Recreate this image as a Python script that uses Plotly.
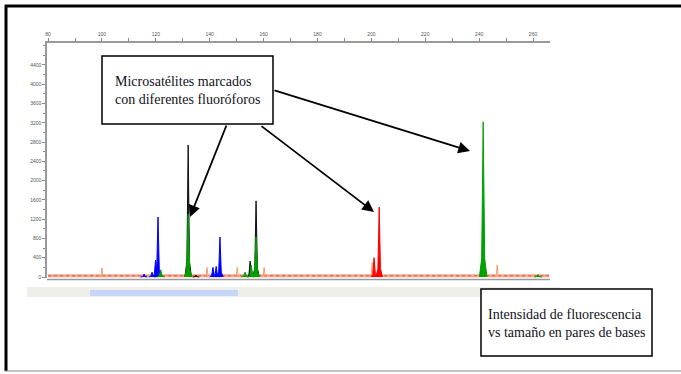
import plotly.graph_objects as go

# ---------------- data (size in bp, intensity in RFU) ----------------
blue_bp = [115.6, 118.6, 119.9, 120.8, 141.2, 142.4, 143.8]
blue_rfu = [60, 100, 350, 1245, 200, 220, 830]

black_bp = [132.0, 134.9, 155.0, 157.2]
black_rfu = [2740, 40, 330, 1580]

green_bp = [121.8, 132.0, 153.1, 155.4, 157.2, 241.5, 261.9]
green_rfu = [150, 1300, 100, 250, 830, 3220, 50]

red_bp = [201.0, 202.9]
red_rfu = [400, 1450]

orange_bp = [100.0, 139.0, 150.2, 160.2, 200.3, 246.7]
orange_rfu = [190, 200, 200, 200, 300, 250]

x_ticks = [80, 100, 120, 140, 160, 180, 200, 220, 240, 260]
y_ticks = [0, 400, 800, 1200, 1600, 2000, 2400, 2800, 3200, 3600, 4000, 4400]

label_peaks = "Microsatélites marcados<br>con diferentes fluoróforos"
label_axes = "Intensidad de fluorescencia<br>vs tamaño en pares de bases"

# ---------------- layout helpers ----------------
W, H = 681, 374
L, R, T, B = 47, 550, 43, 278


def px(x):
    return (x - L) / (R - L)


def py(y):
    return (B - y) / (B - T)


def peaks(centres, heights, hw):
    xs, ys = [], []
    for c, h in zip(centres, heights):
        xs += [c - hw, c - 0.4 * hw, c, c + 0.4 * hw, c + hw, None]
        ys += [0, 0.12 * h, h, 0.12 * h, 0, None]
    return xs, ys


fig = go.Figure()

# baseline noise
fig.add_trace(go.Scatter(x=[x_ticks[0], 266], y=[25, 25], mode="lines",
                         line=dict(color="#f4a88e", width=3), hoverinfo="skip"))
fig.add_trace(go.Scatter(x=[x_ticks[0], 266], y=[25, 25], mode="lines",
                         line=dict(color="#e0503c", width=1, dash="dot"), hoverinfo="skip"))

# orange (hollow)
ox, oy = peaks(orange_bp, orange_rfu, 0.9)
fig.add_trace(go.Scatter(x=ox, y=oy, mode="lines", line=dict(color="#f5a070", width=1)))

for bp, rfu, col, hw in [
    (blue_bp, blue_rfu, "#0000ff", 1.2),
    (black_bp, black_rfu, "#111111", 1.2),
    (green_bp, green_rfu, "#00a000", 1.4),
    (red_bp, red_rfu, "#ff0000", 1.2),
]:
    xs, ys = peaks(bp, rfu, hw)
    fig.add_trace(go.Scatter(x=xs, y=ys, mode="lines", fill="toself",
                             fillcolor=col, line=dict(color=col, width=1)))

shapes = []
# outer frame
shapes.append(dict(type="line", xref="paper", yref="paper", x0=px(5), x1=px(681), y0=py(6), y1=py(6),
                   line=dict(color="black", width=3)))
shapes.append(dict(type="line", xref="paper", yref="paper", x0=px(6), x1=px(6), y0=py(5), y1=py(371),
                   line=dict(color="black", width=3)))
shapes.append(dict(type="line", xref="paper", yref="paper", x0=px(5), x1=px(681), y0=py(371), y1=py(371),
                   line=dict(color="#888888", width=1)))
# bottom axis line
shapes.append(dict(type="line", xref="paper", yref="paper", x0=px(47), x1=px(550), y0=py(279.5), y1=py(279.5),
                   line=dict(color="#999999", width=1.5)))
# scrollbar
shapes.append(dict(type="rect", xref="paper", yref="paper", x0=px(27), x1=px(560), y0=py(287), y1=py(297),
                   fillcolor="#efefea", line=dict(width=0), layer="below"))
shapes.append(dict(type="rect", xref="paper", yref="paper", x0=px(90), x1=px(238), y0=py(290), y1=py(296),
                   fillcolor="#c6d6f8", line=dict(width=0)))
# text boxes
shapes.append(dict(type="rect", xref="paper", yref="paper", x0=px(102), x1=px(273), y0=py(56), y1=py(124),
                   fillcolor="white", line=dict(color="black", width=1.5)))
shapes.append(dict(type="rect", xref="paper", yref="paper", x0=px(481), x1=px(652), y0=py(289), y1=py(356),
                   fillcolor="white", line=dict(color="black", width=1.5)))

ann = []
font = dict(family="Liberation Serif", size=14, color="#111122")
ann.append(dict(xref="paper", yref="paper", x=px(187.5), y=py(90), text=label_peaks, showarrow=False,
                xanchor="center", yanchor="middle", align="left", font=font))
ann.append(dict(xref="paper", yref="paper", x=px(566.5), y=py(323), text=label_axes, showarrow=False,
                xanchor="center", yanchor="middle", align="left", font=font))

for (tx, ty), (hx, hy) in [((227, 124), (190, 217)),
                           ((260, 125), (374, 212)),
                           ((273, 90), (470, 151))]:
    ann.append(dict(xref="paper", yref="paper", x=px(hx), y=py(hy), ax=tx - hx, ay=ty - hy,
                    text="", showarrow=True, arrowhead=2, arrowsize=1.3, arrowwidth=1.8,
                    arrowcolor="black", standoff=0))

fig.update_layout(
    width=W, height=H, autosize=False,
    margin=dict(l=L, r=W - R, t=T, b=H - B, pad=0),
    paper_bgcolor="white", plot_bgcolor="white",
    showlegend=False,
    shapes=shapes, annotations=ann,
    xaxis=dict(range=[79.6, 266.3], side="top", tickvals=x_ticks, showline=True, linecolor="#999999",
               linewidth=1.5, ticks="outside", ticklen=3, tickcolor="#888888", showgrid=False,
               zeroline=False, tickfont=dict(family="Arial", size=5, color="#555555"),
               minor=dict(ticks="outside", dtick=10, ticklen=3, tickcolor="#888888")),
    yaxis=dict(range=[-20.75, 4856], tickvals=y_ticks, showline=True, linecolor="#999999",
               linewidth=1.5, ticks="outside", ticklen=3, tickcolor="#888888", showgrid=False,
               zeroline=False, tickfont=dict(family="Arial", size=5, color="#555555"),
               minor=dict(ticks="outside", dtick=200, ticklen=2, tickcolor="#888888")),
)

fig.write_html("out.html")
